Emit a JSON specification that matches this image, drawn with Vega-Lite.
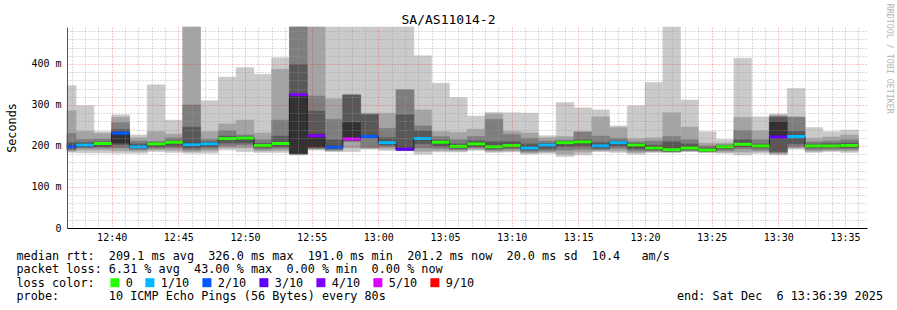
{
  "$schema": "https://vega.github.io/schema/vega-lite/v6.json",
  "width": 800,
  "height": 201,
  "autosize": {"type": "none"},
  "padding": {"left": 67, "top": 27, "right": 30, "bottom": 82},
  "background": "#ffffff",
  "title": {"text": "SA/AS11014-2", "font": "DejaVu Sans Mono", "fontSize": 13, "fontWeight": "normal", "color": "#000000", "anchor": "middle", "frame": "group", "dx": -18.5, "dy": 38, "offset": 4, "baseline": "alphabetic"},
  "datasets": {
    "bars": [
      {"s":36.65,"e":37.333,"p1":184,"p2":187,"p3":190,"p4":193,"p5":196,"p6":201,"p7":208,"p8":231,"p9":286,"p10":347,"med":198,"loss":"2/10"},
      {"s":37.333,"e":38.667,"p1":183,"p2":190,"p3":195,"p4":197,"p5":199,"p6":204,"p7":208,"p8":216,"p9":236,"p10":298,"med":202,"loss":"1/10"},
      {"s":38.667,"e":40,"p1":183,"p2":190,"p3":195,"p4":199,"p5":203,"p6":208,"p7":210,"p8":217,"p9":231,"p10":235,"med":206,"loss":"0"},
      {"s":40,"e":41.333,"p1":182,"p2":188,"p3":195,"p4":203,"p5":207,"p6":233,"p7":240,"p8":257,"p9":270,"p10":276,"med":231,"loss":"2/10"},
      {"s":41.333,"e":42.667,"p1":182,"p2":187,"p3":191,"p4":194,"p5":196,"p6":201,"p7":205,"p8":212,"p9":220,"p10":227,"med":198,"loss":"1/10"},
      {"s":42.667,"e":44,"p1":186,"p2":190,"p3":194,"p4":198,"p5":202,"p6":207,"p7":208,"p8":211,"p9":235,"p10":349,"med":205,"loss":"0"},
      {"s":44,"e":45.333,"p1":184,"p2":189,"p3":195,"p4":200,"p5":206,"p6":211,"p7":213,"p8":220,"p9":229,"p10":263,"med":209,"loss":"0"},
      {"s":45.333,"e":46.667,"p1":182,"p2":186,"p3":190,"p4":195,"p5":200,"p6":207,"p7":246,"p8":300,"p9":550,"p10":600,"med":203,"loss":"1/10"},
      {"s":46.667,"e":48,"p1":182,"p2":188,"p3":193,"p4":198,"p5":202,"p6":207,"p7":210,"p8":216,"p9":235,"p10":310,"med":205,"loss":"1/10"},
      {"s":48,"e":49.333,"p1":190,"p2":195,"p3":200,"p4":207,"p5":215,"p6":220,"p7":224,"p8":237,"p9":254,"p10":368,"med":218,"loss":"0"},
      {"s":49.333,"e":50.667,"p1":186,"p2":195,"p3":202,"p4":207,"p5":215,"p6":221,"p7":222,"p8":227,"p9":263,"p10":391,"med":219,"loss":"0"},
      {"s":50.667,"e":52,"p1":184,"p2":188,"p3":192,"p4":196,"p5":199,"p6":203,"p7":206,"p8":215,"p9":232,"p10":375,"med":201,"loss":"0"},
      {"s":52,"e":53.333,"p1":184,"p2":189,"p3":194,"p4":199,"p5":203,"p6":208,"p7":224,"p8":263,"p9":387,"p10":415,"med":206,"loss":"0"},
      {"s":53.333,"e":54.667,"p1":178,"p2":179,"p3":180,"p4":181,"p5":182,"p6":326,"p7":398,"p8":520,"p9":560,"p10":600,"med":325,"loss":"4/10"},
      {"s":54.667,"e":56,"p1":190,"p2":192,"p3":194,"p4":196,"p5":198,"p6":229,"p7":285,"p8":322,"p9":510,"p10":600,"med":225,"loss":"4/10"},
      {"s":56,"e":57.333,"p1":186,"p2":188,"p3":190,"p4":193,"p5":195,"p6":200,"p7":215,"p8":265,"p9":315,"p10":600,"med":197,"loss":"2/10"},
      {"s":57.333,"e":58.667,"p1":186,"p2":195,"p3":211,"p4":213,"p5":215,"p6":257,"p7":324,"p8":324,"p9":326,"p10":600,"med":217,"loss":"5/10"},
      {"s":58.667,"e":60,"p1":192,"p2":194,"p3":196,"p4":219,"p5":221,"p6":225,"p7":276,"p8":278,"p9":280,"p10":600,"med":223,"loss":"2/10"},
      {"s":60,"e":61.333,"p1":189,"p2":193,"p3":198,"p4":202,"p5":205,"p6":210,"p7":220,"p8":243,"p9":280,"p10":600,"med":208,"loss":"1/10"},
      {"s":61.333,"e":62.667,"p1":188,"p2":189,"p3":189.5,"p4":190,"p5":191,"p6":194,"p7":276,"p8":337,"p9":337,"p10":600,"med":192,"loss":"3/10"},
      {"s":62.667,"e":64,"p1":180,"p2":187,"p3":195,"p4":205,"p5":215,"p6":220,"p7":237,"p8":249,"p9":288,"p10":420,"med":218,"loss":"1/10"},
      {"s":64,"e":65.333,"p1":185,"p2":189,"p3":194,"p4":200,"p5":206,"p6":211,"p7":214,"p8":223,"p9":235,"p10":353,"med":209,"loss":"0"},
      {"s":65.333,"e":66.667,"p1":185,"p2":188,"p3":191,"p4":194,"p5":197,"p6":201,"p7":205,"p8":215,"p9":233,"p10":318,"med":199,"loss":"0"},
      {"s":66.667,"e":68,"p1":189,"p2":192,"p3":195,"p4":199,"p5":202,"p6":207,"p7":212,"p8":223,"p9":241,"p10":273,"med":205,"loss":"0"},
      {"s":68,"e":69.333,"p1":184,"p2":187,"p3":190,"p4":193,"p5":196,"p6":200,"p7":210,"p8":265,"p9":278,"p10":282,"med":198,"loss":"0"},
      {"s":69.333,"e":70.667,"p1":185,"p2":188,"p3":192,"p4":196,"p5":199,"p6":203,"p7":210,"p8":228,"p9":236,"p10":281,"med":201,"loss":"0"},
      {"s":70.667,"e":72,"p1":180,"p2":183,"p3":186,"p4":190,"p5":193,"p6":197,"p7":205,"p8":219,"p9":232,"p10":280,"med":195,"loss":"1/10"},
      {"s":72,"e":73.333,"p1":182,"p2":185,"p3":188,"p4":193,"p5":199,"p6":204,"p7":206,"p8":212,"p9":220,"p10":225,"med":202,"loss":"1/10"},
      {"s":73.333,"e":74.667,"p1":174,"p2":180,"p3":190,"p4":199,"p5":205,"p6":210,"p7":211,"p8":214,"p9":223,"p10":306,"med":208,"loss":"0"},
      {"s":74.667,"e":76,"p1":178,"p2":185,"p3":192,"p4":200,"p5":207,"p6":212,"p7":215,"p8":234,"p9":235,"p10":293,"med":210,"loss":"0"},
      {"s":76,"e":77.333,"p1":186,"p2":188,"p3":191,"p4":194,"p5":197,"p6":202,"p7":208,"p8":224,"p9":271,"p10":288,"med":200,"loss":"1/10"},
      {"s":77.333,"e":78.667,"p1":184,"p2":188,"p3":194,"p4":200,"p5":205,"p6":210,"p7":212,"p8":219,"p9":245,"p10":249,"med":208,"loss":"1/10"},
      {"s":78.667,"e":80,"p1":180,"p2":184,"p3":188,"p4":193,"p5":198,"p6":204,"p7":206,"p8":210,"p9":218,"p10":298,"med":202,"loss":"0"},
      {"s":80,"e":81.333,"p1":184,"p2":186,"p3":188,"p4":190,"p5":193,"p6":197,"p7":202,"p8":212,"p9":220,"p10":355,"med":195,"loss":"0"},
      {"s":81.333,"e":82.667,"p1":184,"p2":185,"p3":186,"p4":187,"p5":189,"p6":194,"p7":210,"p8":223,"p9":281,"p10":600,"med":191,"loss":"0"},
      {"s":82.667,"e":84,"p1":186,"p2":187,"p3":189,"p4":191,"p5":193,"p6":197,"p7":205,"p8":215,"p9":246,"p10":312,"med":195,"loss":"0"},
      {"s":84,"e":85.333,"p1":184,"p2":185,"p3":186,"p4":187,"p5":188,"p6":192,"p7":195,"p8":200,"p9":207,"p10":235,"med":190,"loss":"0"},
      {"s":85.333,"e":86.667,"p1":182,"p2":185,"p3":189,"p4":193,"p5":196,"p6":199,"p7":201,"p8":203,"p9":207,"p10":216,"med":198,"loss":"0"},
      {"s":86.667,"e":88,"p1":178,"p2":185,"p3":193,"p4":198,"p5":201,"p6":206,"p7":215,"p8":238,"p9":270,"p10":414,"med":204,"loss":"0"},
      {"s":88,"e":89.333,"p1":182,"p2":186,"p3":190,"p4":195,"p5":198,"p6":202,"p7":205,"p8":215,"p9":237,"p10":271,"med":200,"loss":"0"},
      {"s":89.333,"e":90.667,"p1":178,"p2":181,"p3":184,"p4":186,"p5":219,"p6":259,"p7":270,"p8":272,"p9":275,"p10":278,"med":222,"loss":"3/10"},
      {"s":90.667,"e":92,"p1":192,"p2":195,"p3":198,"p4":205,"p5":220,"p6":226,"p7":236,"p8":270,"p9":271,"p10":340,"med":223,"loss":"1/10"},
      {"s":92,"e":93.333,"p1":184,"p2":187,"p3":191,"p4":195,"p5":198,"p6":202,"p7":205,"p8":210,"p9":219,"p10":245,"med":200,"loss":"0"},
      {"s":93.333,"e":94.667,"p1":186,"p2":189,"p3":192,"p4":196,"p5":198,"p6":202,"p7":206,"p8":212,"p9":222,"p10":235,"med":200,"loss":"0"},
      {"s":94.667,"e":96,"p1":184,"p2":188,"p3":192,"p4":196,"p5":199,"p6":203,"p7":207,"p8":215,"p9":227,"p10":239,"med":201,"loss":"0"}
    ]
  },
  "data": {"name": "bars"},
  "layer": [
    {
      "mark": {"type": "rect", "color": "#cacaca", "stroke": "#cacaca", "strokeWidth": 0.5},
      "encoding": {
        "x": {"field": "s", "type": "quantitative",
              "scale": {"domain": [36.65, 96.65], "nice": false, "zero": false},
              "axis": {"orient": "bottom", "values": [37,38,39,41,42,43,44,46,47,48,49,51,52,53,54,56,57,58,59,61,62,63,64,66,67,68,69,71,72,73,74,76,77,78,79,81,82,83,84,86,87,88,89,91,92,93,94,96], "grid": true, "gridColor": "#9a9a9a", "gridOpacity": 0.7, "gridDash": [1, 2], "labels": false, "ticks": false, "domain": false, "title": null, "zindex": 1}},
        "x2": {"field": "e"},
        "y": {"field": "p1", "type": "quantitative",
              "scale": {"domain": [0, 490], "nice": false, "clamp": true},
              "axis": {"orient": "left", "values": [20, 40, 60, 80, 120, 140, 160, 180, 220, 240, 260, 280, 320, 340, 360, 380, 420, 440, 460, 480], "grid": true, "gridColor": "#9a9a9a", "gridOpacity": 0.7, "gridDash": [1, 2], "labels": false, "ticks": false, "domain": false, "title": null, "zindex": 1}},
        "y2": {"field": "p10"}
      }
    },
    {
      "mark": {"type": "rect", "color": "#a4a4a4", "stroke": "#a4a4a4", "strokeWidth": 0.5},
      "encoding": {
        "x": {"field": "s", "type": "quantitative",
              "axis": {"orient": "bottom", "values": [40,45,50,55,60,65,70,75,80,85,90,95], "labelExpr": "(datum.value < 60 ? '12:' : '13:') + (datum.value % 60 < 10 ? '0' : '') + (datum.value % 60)", "grid": true, "gridColor": "#ff0000", "gridOpacity": 0.45, "gridDash": [1, 2], "ticks": false, "tickSize": 0, "domain": true, "domainColor": "#000000", "domainWidth": 1,
                       "labelFont": "DejaVu Sans Mono", "labelFontSize": 10, "labelColor": "#000000", "labelPadding": 4, "labelFlush": false, "labelOverlap": false,
                       "title": ["median rtt:\u00a0\u00a0209.1 ms avg\u00a0\u00a0326.0 ms max\u00a0\u00a0191.0 ms min\u00a0\u00a0201.2 ms now\u00a0\u00a020.0 ms sd\u00a0\u00a010.4\u00a0\u00a0\u00a0am/s", "packet loss: 6.31 % avg\u00a0\u00a043.00 % max\u00a0\u00a00.00 % min\u00a0\u00a00.00 % now", "loss color:", "probe:\u00a0\u00a0\u00a0\u00a0\u00a0\u00a0\u00a010 ICMP Echo Pings (56 Bytes) every 80s\u00a0\u00a0\u00a0\u00a0\u00a0\u00a0\u00a0\u00a0\u00a0\u00a0\u00a0\u00a0\u00a0\u00a0\u00a0\u00a0\u00a0\u00a0\u00a0\u00a0\u00a0\u00a0\u00a0\u00a0\u00a0\u00a0\u00a0\u00a0\u00a0\u00a0\u00a0\u00a0\u00a0\u00a0\u00a0\u00a0\u00a0\u00a0\u00a0\u00a0\u00a0end: Sat Dec\u00a0\u00a06 13:36:39 2025"],
                       "titleFont": "DejaVu Sans Mono", "titleFontSize": 11.8, "titleFontWeight": "normal", "titleColor": "#000000", "titleAlign": "left", "titleBaseline": "top", "titleX": -51, "titleY": 22, "titleLineHeight": 13.6, "titleLimit": 2000, "zindex": 1}},
        "x2": {"field": "e"},
        "y": {"field": "p2", "type": "quantitative",
              "axis": {"orient": "left", "values": [0, 100, 200, 300, 400], "labelExpr": "datum.value == 0 ? '0\u00a0\u00a0' : datum.value + ' m'", "grid": true, "gridColor": "#ff0000", "gridOpacity": 0.45, "gridDash": [1, 2], "ticks": false, "tickSize": 0, "domain": true, "domainColor": "#555555", "domainWidth": 1,
                       "labelFont": "DejaVu Sans Mono", "labelFontSize": 10, "labelColor": "#000000", "labelPadding": 6, "labelFlush": false, "labelOverlap": false,
                       "title": "Seconds", "titleFont": "DejaVu Sans Mono", "titleFontSize": 11.8, "titleFontWeight": "normal", "titleColor": "#000000", "titleAngle": -90, "titleAlign": "center", "titleBaseline": "middle", "titleX": -56, "titleY": 100.5, "zindex": 1}},
        "y2": {"field": "p9"}
      }
    },
    {
      "mark": {"type": "rect", "color": "#7e7e7e", "stroke": "#7e7e7e", "strokeWidth": 0.5},
      "encoding": {
        "x": {"field": "s", "type": "quantitative", "axis": null},
        "x2": {"field": "e"},
        "y": {"field": "p3", "type": "quantitative",
              "axis": {"orient": "right", "labels": false, "ticks": false, "domain": false, "grid": false,
                       "title": "RRDTOOL / TOBI OETIKER", "titleFont": "DejaVu Sans Mono", "titleFontSize": 8.3, "titleFontWeight": "normal", "titleColor": "#b4b4b4", "titleAngle": 90, "titleAlign": "left", "titleBaseline": "middle", "titleX": 21.5, "titleY": -23.7}},
        "y2": {"field": "p8"}
      }
    },
    {
      "mark": {"type": "rect", "color": "#585858", "stroke": "#585858", "strokeWidth": 0.5},
      "encoding": {
        "x": {"field": "s", "type": "quantitative", "axis": null},
        "x2": {"field": "e"},
        "y": {"field": "p4", "type": "quantitative", "axis": null},
        "y2": {"field": "p7"}
      }
    },
    {
      "mark": {"type": "rect", "color": "#323232", "stroke": "#323232", "strokeWidth": 0.5},
      "encoding": {
        "x": {"field": "s", "type": "quantitative", "axis": null},
        "x2": {"field": "e"},
        "y": {"field": "p5", "type": "quantitative", "axis": null},
        "y2": {"field": "p6"}
      }
    },
    {
      "mark": {"type": "line", "interpolate": "step-after", "color": "#202020", "strokeWidth": 1},
      "encoding": {
        "x": {"field": "s", "type": "quantitative", "axis": null},
        "y": {"field": "med", "type": "quantitative", "axis": null}
      }
    },
    {
      "mark": {"type": "rule", "strokeWidth": 3},
      "encoding": {
        "x": {"field": "s", "type": "quantitative", "axis": null},
        "x2": {"field": "e"},
        "y": {"field": "med", "type": "quantitative", "axis": null},
        "color": {"field": "loss", "type": "nominal",
                  "scale": {"domain": ["0", "1/10", "2/10", "3/10", "4/10", "5/10", "9/10"], "range": ["#26ff00", "#00b8ff", "#0059ff", "#5e00ff", "#7e00ff", "#dd00ff", "#ff0000"]},
                  "legend": {"title": null, "orient": "none", "legendX": 42, "legendY": 249.5, "direction": "horizontal", "symbolType": "square", "symbolSize": 1, "symbolStrokeWidth": 8,
                             "labelFont": "DejaVu Sans Mono", "labelFontSize": 11.8, "labelColor": "#000000", "labelOffset": 5, "columnPadding": 0, "padding": 0, "rowPadding": 0, "labelBaseline": "middle"}}
      }
    }
  ],
  "resolve": {"axis": {"x": "independent", "y": "independent"}},
  "config": {"view": {"stroke": null}, "font": "DejaVu Sans Mono"}
}
